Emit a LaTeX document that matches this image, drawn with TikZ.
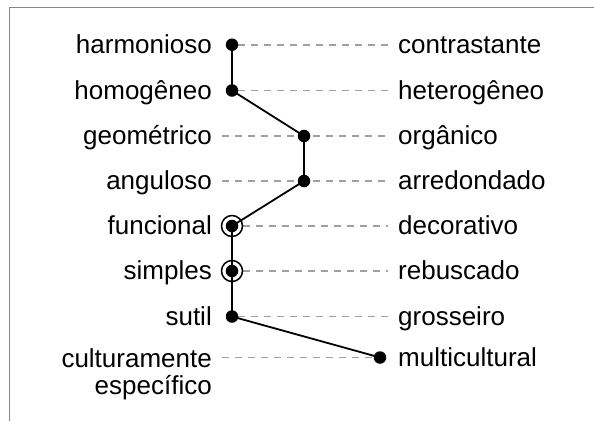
\documentclass[tikz,border=0pt]{standalone}
\usepackage{fontspec}
\setmainfont{Liberation Sans}
\definecolor{dashgray}{RGB}{160,160,160}
\definecolor{framegray}{RGB}{135,135,135}
\pgfdeclarelayer{bg}
\pgfsetlayers{bg,main}
\begin{document}
\begin{tikzpicture}[x=1pt,y=-1pt,
  lab/.style={font=\fontsize{26}{27}\selectfont, inner sep=0pt},
  dashln/.style={draw=dashgray, line width=1.9pt, dash pattern=on 6.5pt off 6.5pt},
  conn/.style={draw=black, line width=1.8pt},
  dot/.style={circle, fill=black, inner sep=0pt, minimum size=12.5pt},
  ring/.style={circle, draw=black, line width=1.5pt, inner sep=0pt, minimum size=21pt},
  frame/.style={draw=framegray, line width=1.5pt}]
\useasboundingbox (0,0) rectangle (594,421);
\coordinate (c1) at (9.5,421);
\coordinate (c2) at (9.5,7.5);
\coordinate (c3) at (594,7.5);
\draw[frame] (c1) -- (c2) -- (c3);
% rows
\foreach \i/\y/\dx/\l/\r in {
  1/44.7/232/harmonioso/contrastante,
  2/90.5/232/homogêneo/heterogêneo,
  3/136/304/geométrico/orgânico,
  4/181/304/anguloso/arredondado,
  5/226/232/funcional/decorativo,
  6/271/232/simples/rebuscado,
  7/316.5/232/sutil/grosseiro}{
  \node[lab, anchor=base east] (L\i) at (212,\y+8.5) {\l};
  \node[lab, anchor=base west] (R\i) at (398,\y+8.5) {\r};
  \coordinate (A\i) at (222,\y);
  \coordinate (B\i) at (388,\y);
  \node[dot] (D\i) at (\dx,\y) {};
}
\node[lab, anchor=north east, align=right] (L8) at (212,348) {culturamente\\específico};
\node[lab, anchor=base west] (R8) at (398,366) {multicultural};
\coordinate (A8) at (222,357.5);
\node[dot] (D8) at (380,357.5) {};
\node[ring] (O5) at (D5) {};
\node[ring] (O6) at (D6) {};
\begin{pgfonlayer}{bg}
  \draw[dashln] (D1.east) -- (B1);
  \draw[dashln] (D2.east) -- (B2);
  \draw[dashln] (A3) -- (B3);
  \draw[dashln] (A4) -- (B4);
  \draw[dashln] (O5.east) -- (B5);
  \draw[dashln] (O6.east) -- (B6);
  \draw[dashln] (D7.east) -- (B7);
  \draw[dashln] (A8) -- (D8);
  \draw[conn] (D1.center) -- (D2.center) -- (D3.center) -- (D4.center) -- (D5.center)
    -- (D6.center) -- (D7.center) -- (D8.center);
\end{pgfonlayer}
\end{tikzpicture}
\end{document}
